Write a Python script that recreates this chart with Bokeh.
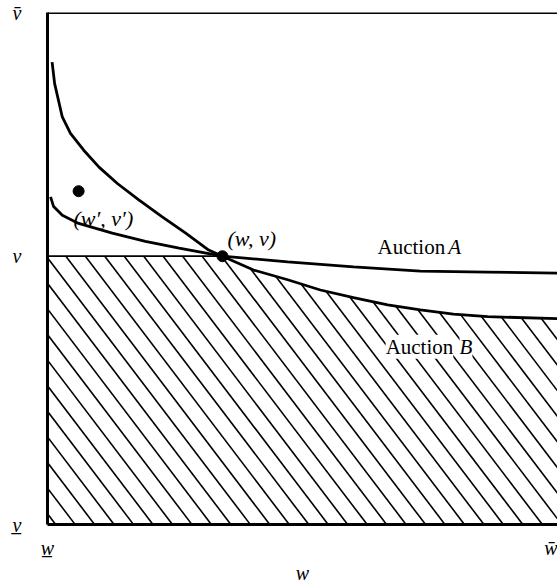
import numpy as np
from bokeh.plotting import figure
from bokeh.models import Range1d, FixedTicker, Span, Label
from bokeh.embed import file_html
from bokeh.resources import INLINE

# ---------------- data ----------------
auction_a_w = [0.006, 0.012, 0.029, 0.061, 0.127, 0.192, 0.258, 0.343, 0.471, 0.600, 0.731, 0.863, 1.000]
auction_a_v = [0.640, 0.621, 0.604, 0.588, 0.569, 0.553, 0.540, 0.524, 0.513, 0.503, 0.495, 0.493, 0.491]

auction_b_w = [0.009, 0.014, 0.029, 0.045, 0.071, 0.101, 0.137, 0.179, 0.225, 0.271, 0.316, 0.343,
               0.404, 0.471, 0.535, 0.600, 0.667, 0.731, 0.796, 0.863, 1.000]
auction_b_v = [0.903, 0.861, 0.796, 0.764, 0.731, 0.698, 0.666, 0.634, 0.601, 0.569, 0.536, 0.524,
               0.497, 0.478, 0.458, 0.443, 0.429, 0.419, 0.411, 0.406, 0.402]

v_level = 0.524          # reserve level v
w_star = 0.343           # w at the point (w, v)

points_w = [0.343, 0.061]
points_v = [0.524, 0.651]

v_ticks = [0.0, v_level, 1.0]
v_tick_labels = ["v\u0332", "v", "v\u0304"]
w_ticks = [0.0, 1.0]
w_tick_labels = ["w\u0332", "w\u0304"]
w_axis_title = "w"

# ---------------- styles ----------------
SERIF = "Liberation Serif"
HATCH_SLOPE = 1.31
HATCH_STEP = 0.05
HATCH_PHASE = 0.471

p = figure(width=557, height=586,
           x_range=Range1d(w_ticks[0], w_ticks[-1]), y_range=Range1d(v_ticks[0], v_ticks[-1]),
           output_backend="svg", toolbar_location=None,
           min_border_left=47, min_border_right=0, min_border_top=12, min_border_bottom=61)
p.grid.visible = False
p.outline_line_color = None
p.background_fill_color = "white"
p.border_fill_color = "white"

for ax in (p.xaxis[0], p.yaxis[0]):
    ax.major_tick_line_color = None
    ax.minor_tick_line_color = None
    ax.major_tick_out = 0
    ax.major_tick_in = 0
    ax.axis_line_width = 3
    ax.axis_line_color = "black"
    ax.major_label_text_font = SERIF
    ax.major_label_text_font_style = "italic"
    ax.major_label_text_font_size = "20px"
    ax.major_label_text_color = "black"

p.xaxis.ticker = FixedTicker(ticks=w_ticks)
p.xaxis.major_label_overrides = dict(zip(w_ticks, w_tick_labels))
p.xaxis.major_label_standoff = 12
p.xaxis.axis_label = w_axis_title
p.xaxis.axis_label_text_font = SERIF
p.xaxis.axis_label_text_font_style = "italic"
p.xaxis.axis_label_text_font_size = "20px"
p.xaxis.axis_label_text_color = "black"
p.xaxis.axis_label_standoff = 0
p.yaxis.ticker = FixedTicker(ticks=v_ticks)
p.yaxis.major_label_overrides = dict(zip(v_ticks, v_tick_labels))
p.yaxis.major_label_standoff = 26

p.add_layout(Span(location=v_ticks[-1], dimension="width", line_color="black", line_width=3))

# ---------------- hatched region ----------------
ws = np.linspace(0, 1, 4001)
bnd = np.where(ws <= w_star, v_level, np.interp(ws, auction_b_w, auction_b_v))
x0s, y0s, x1s, y1s = [], [], [], []
for c in HATCH_PHASE + HATCH_STEP * np.arange(-12, 40):
    lv = c - HATCH_SLOPE * ws
    idx = np.nonzero((lv >= 0) & (lv <= bnd))[0]
    if idx.size == 0:
        continue
    x0s.append(ws[idx[0]]); y0s.append(lv[idx[0]])
    x1s.append(ws[idx[-1]]); y1s.append(lv[idx[-1]])
p.segment(x0s, y0s, x1s, y1s, line_color="black", line_width=1.6)

# reserve line
p.line([0, w_star], [v_level, v_level], line_color="black", line_width=1.7)

# curves
p.line(auction_a_w, auction_a_v, line_color="black", line_width=2.8)
p.line(auction_b_w, auction_b_v, line_color="black", line_width=2.8)

# points
p.scatter(points_w, points_v, size=11, color="black")

# ---------------- labels ----------------
def lab(x, y, text, size="21px", style="normal", bg=None, align="left"):
    l = Label(x=x, y=y, text=text, text_font=SERIF, text_font_size=size,
              text_font_style=style, text_color="black", text_align=align,
              text_baseline="alphabetic")
    if bg:
        l.background_fill_color = bg
    p.add_layout(l)

lab(0.647, 0.542, "Auction")
lab(0.786, 0.542, "A", style="italic")
lab(0.663, 0.347, "Auction", bg="white")
lab(0.808, 0.347, "B", style="italic", bg="white")
lab(0.353, 0.559, "(w, v)", size="22px", style="italic")
lab(0.051, 0.598, "(w\u2032, v\u2032)", size="22px", style="italic")

open("out.html", "w").write(file_html(p, INLINE))
